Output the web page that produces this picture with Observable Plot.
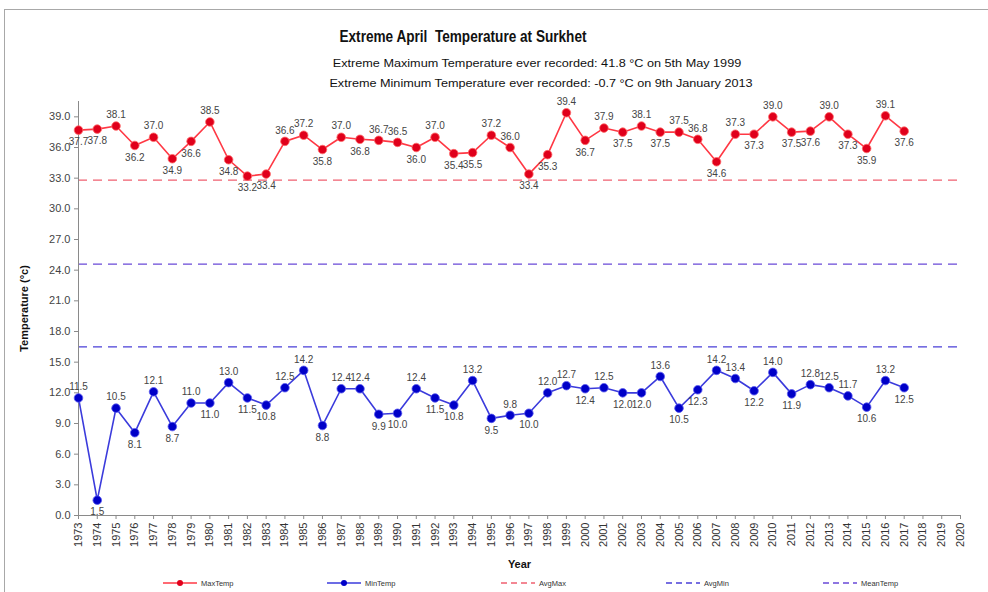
<!DOCTYPE html>
<html><head><meta charset="utf-8">
<script src="https://cdn.jsdelivr.net/npm/d3@7"></script>
<script src="https://cdn.jsdelivr.net/npm/@observablehq/plot@0.6"></script>
<style>
body{margin:0;background:#fff;font-family:"Liberation Sans",Arial,sans-serif;}
#wrap{position:relative;width:988px;height:592px;overflow:hidden;background:#fff;}
#frame{position:absolute;left:4px;top:9px;width:1000px;height:600px;border-top:1.5px solid #a8a8a8;border-left:1.5px solid #a8a8a8;pointer-events:none;}
#hdr{position:relative;height:90px;}
.t{position:absolute;white-space:nowrap;transform:translate(-50%,-50%);color:#111;}
#chart svg{display:block;font-family:"Liberation Sans",Arial,sans-serif;}
#chart g[aria-label="y-axis label"] text,#chart g[aria-label="x-axis label"] text{font-weight:bold;fill:#111;}
#legend svg{display:block;}
</style></head><body>
<div id="wrap">
 <div id="frame"></div>
 <div id="hdr">
  <div class="t" style="left:463px;top:37px;font-weight:bold;font-size:13.6px;transform:translate(-50%,-50%) scaleY(1.15)">Extreme April&nbsp; Temperature at Surkhet</div>
  <div class="t" style="left:537px;top:63px;font-size:11px;transform:translate(-50%,-50%) scaleX(1.15)">Extreme Maximum Temperature ever recorded: 41.8 °C on 5th May 1999</div>
  <div class="t" style="left:541px;top:83px;font-size:11px;transform:translate(-50%,-50%) scaleX(1.15)">Extreme Minimum Temperature ever recorded: -0.7 °C on 9th January 2013</div>
 </div>
 <div id="chart"></div>
 <div id="legend"></div>
</div>
<script>
const years = [1973,1974,1975,1976,1977,1978,1979,1980,1981,1982,1983,1984,1985,1986,1987,1988,1989,1990,1991,1992,1993,1994,1995,1996,1997,1998,1999,2000,2001,2002,2003,2004,2005,2006,2007,2008,2009,2010,2011,2012,2013,2014,2015,2016,2017];
const maxTemp = [37.7,37.8,38.1,36.2,37.0,34.9,36.6,38.5,34.8,33.2,33.4,36.6,37.2,35.8,37.0,36.8,36.7,36.5,36.0,37.0,35.4,35.5,37.2,36.0,33.4,35.3,39.4,36.7,37.9,37.5,38.1,37.5,37.5,36.8,34.6,37.3,37.3,39.0,37.5,37.6,39.0,37.3,35.9,39.1,37.6];
const minTemp = [11.5,1.5,10.5,8.1,12.1,8.7,11.0,11.0,13.0,11.5,10.8,12.5,14.2,8.8,12.4,12.4,9.9,10.0,12.4,11.5,10.8,13.2,9.5,9.8,10.0,12.0,12.7,12.4,12.5,12.0,12.0,13.6,10.5,12.3,14.2,13.4,12.2,14.0,11.9,12.8,12.5,11.7,10.6,13.2,12.5];
const refNames = ["AvgMax","AvgMin","MeanTemp"];
const refValues = [32.8,16.5,24.6];
const xTicks = [1973,1974,1975,1976,1977,1978,1979,1980,1981,1982,1983,1984,1985,1986,1987,1988,1989,1990,1991,1992,1993,1994,1995,1996,1997,1998,1999,2000,2001,2002,2003,2004,2005,2006,2007,2008,2009,2010,2011,2012,2013,2014,2015,2016,2017,2018,2019,2020];
const yTicks = [0,3,6,9,12,15,18,21,24,27,30,33,36,39];

const colMaxLine="#ff3844", colMaxDot="#e0001b";
const colMinLine="#3b3bdc", colMinDot="#0000c8";
const refColors={AvgMax:"#f06070",AvgMin:"#4a3fd8",MeanTemp:"#6a4ad8"};

function rows(arr){
  return years.map((y,i)=>{
    const nb=[arr[i-1],arr[i+1]].filter(v=>v!==undefined);
    const above = arr[i] >= d3.mean(nb);
    return {year:y, v:arr[i], above};
  });
}
const maxRows=rows(maxTemp), minRows=rows(minTemp);
const refs=refNames.map((n,i)=>({name:n,value:refValues[i]}));
const fmt=d=>d.toFixed(1);

const chart = Plot.plot({
  width:988, height:485,
  marginLeft:78, marginRight:28, marginTop:11, marginBottom:60,
  style:{fontSize:"11px", color:"#333", background:"transparent"},
  x:{domain:[1973,2020]},
  y:{domain:[0,40.5]},
  marks:[
    ...refs.map(r=>Plot.ruleY([r],{y:"value", stroke:refColors[r.name], strokeWidth:1.3, strokeDasharray:"9,6"})),
    Plot.ruleY([0],{stroke:"#8a8a8a"}),
    Plot.ruleX([1973],{y1:0,y2:40.5,stroke:"#8a8a8a"}),
    Plot.axisY({ticks:yTicks, tickFormat:fmt, tickSize:4, tickPadding:4, stroke:"#8a8a8a", fill:"#444",
      label:"Temperature (°c)", labelAnchor:"center", labelArrow:"none", labelOffset:58}),
    Plot.axisX({ticks:xTicks, tickFormat:d=>String(d), tickRotate:-90, tickSize:4, tickPadding:3, stroke:"#8a8a8a", fill:"#333",
      label:"Year", labelAnchor:"center", labelArrow:"none", labelOffset:52}),
    Plot.line(maxRows,{x:"year",y:"v",stroke:colMaxLine,strokeWidth:1.6}),
    Plot.dot(maxRows,{x:"year",y:"v",r:4.3,fill:colMaxDot,stroke:"#ff6b6b",strokeWidth:0.8}),
    Plot.text(maxRows.filter(d=>d.above),{x:"year",y:"v",text:d=>fmt(d.v),dy:-11,fontSize:10,fill:"#444"}),
    Plot.text(maxRows.filter(d=>!d.above),{x:"year",y:"v",text:d=>fmt(d.v),dy:12,fontSize:10,fill:"#444"}),
    Plot.line(minRows,{x:"year",y:"v",stroke:colMinLine,strokeWidth:1.6}),
    Plot.dot(minRows,{x:"year",y:"v",r:4.3,fill:colMinDot,stroke:"#5c5cf0",strokeWidth:0.8}),
    Plot.text(minRows.filter(d=>d.above),{x:"year",y:"v",text:d=>fmt(d.v),dy:-11,fontSize:10,fill:"#444"}),
    Plot.text(minRows.filter(d=>!d.above),{x:"year",y:"v",text:d=>fmt(d.v),dy:12,fontSize:10,fill:"#444"})
  ]
});
document.getElementById("chart").appendChild(chart);

// legend
const legendItems=[
  {name:"MaxTemp", color:colMaxLine, dot:colMaxDot, dash:null, x:163},
  {name:"MinTemp", color:colMinLine, dot:colMinDot, dash:null, x:327},
  {name:"AvgMax", color:refColors.AvgMax, dot:null, dash:"6,4", x:501},
  {name:"AvgMin", color:refColors.AvgMin, dot:null, dash:"6,4", x:666},
  {name:"MeanTemp", color:refColors.MeanTemp, dot:null, dash:"6,4", x:823}
];
const lg=d3.select("#legend").append("svg").attr("width",988).attr("height",17);
const it=lg.selectAll("g").data(legendItems).join("g").attr("transform",d=>`translate(${d.x},8)`);
it.append("line").attr("x1",0).attr("x2",34).attr("y1",0).attr("y2",0)
  .attr("stroke",d=>d.color).attr("stroke-width",1.3).attr("stroke-dasharray",d=>d.dash);
it.filter(d=>d.dot).append("circle").attr("cx",17).attr("cy",0).attr("r",3).attr("fill",d=>d.dot);
it.append("text").attr("x",38).attr("y",0).attr("dy","0.35em").attr("font-size",7.5)
  .attr("font-family","Liberation Sans, Arial, sans-serif").attr("fill","#333").text(d=>d.name);
</script>
</body></html>
